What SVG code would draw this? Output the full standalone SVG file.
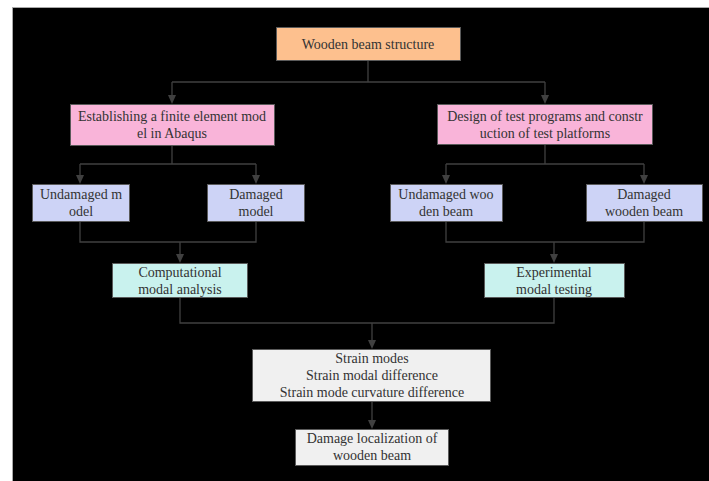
<svg xmlns="http://www.w3.org/2000/svg" width="709" height="481" viewBox="0 0 709 481">
<style>
.box{stroke:#5a5a5a;stroke-width:1}
.t{font-family:"Liberation Serif","Times New Roman",serif;font-size:14px;fill:#333;text-anchor:middle}
.c{fill:none;stroke:#404040;stroke-width:1.3}
.orange{fill:#fdc08e}
.pink{fill:#f9b4d9}
.lav{fill:#cdd3f6}
.cyan{fill:#c9f2ee}
.gray{fill:#f0f0f0}
.ah{fill:#404040}
</style>
<rect x="0" y="0" width="709" height="481" fill="#ffffff"/>
<rect x="12" y="7" width="697" height="474" fill="#000000"/>
<line x1="12" y1="7.5" x2="709" y2="7.5" stroke="#a8a8a8" stroke-width="1"/>
<line x1="12.5" y1="7" x2="12.5" y2="481" stroke="#a8a8a8" stroke-width="1"/>

<g id="connectors">
<path class="c" d="M368,60 V82 M172,82 H545"/>
<path class="c" d="M172,145 V164 M80,164 H256 M545,144 V164 M446,164 H644"/>
<path class="c" d="M80,221 V242 H256 V221 M446,221 V242 H644 V221"/>
<path class="c" d="M180,297 V323 H554 V297"/>
<path class="c" d="M172,82 V96 M545,82 V96 M80,164 V176 M256,164 V176 M446,164 V176 M644,164 V176 M180,242 V255 M554,242 V255 M372,323 V341 M372,401 V421"/>
<polygon class="ah" points="168,95 176,95 172,104"/>
<polygon class="ah" points="541,95 549,95 545,104"/>
<polygon class="ah" points="76,175 84,175 80,184"/>
<polygon class="ah" points="252,175 260,175 256,184"/>
<polygon class="ah" points="442,175 450,175 446,184"/>
<polygon class="ah" points="640,175 648,175 644,184"/>
<polygon class="ah" points="176,254 184,254 180,263"/>
<polygon class="ah" points="550,254 558,254 554,263"/>
<polygon class="ah" points="368,340 376,340 372,349"/>
<polygon class="ah" points="368,420 376,420 372,429"/>
</g>

<g id="n-top">
<rect class="box orange" x="276.5" y="27.5" width="184" height="33"/>
<text class="t" x="368" y="49">Wooden beam structure</text>
</g>
<g id="n-fem">
<rect class="box pink" x="70.5" y="104.5" width="204" height="41"/>
<text class="t" x="172" y="121">Establishing a finite element mod</text>
<text class="t" x="172" y="138">el in Abaqus</text>
</g>
<g id="n-test">
<rect class="box pink" x="437.5" y="104.5" width="215" height="40"/>
<text class="t" x="545" y="121">Design of test programs and constr</text>
<text class="t" x="545" y="138">uction of test platforms</text>
</g>
<g id="n-undam-model">
<rect class="box lav" x="32.5" y="184.5" width="97" height="37"/>
<text class="t" x="81" y="199">Undamaged m</text>
<text class="t" x="81" y="216">odel</text>
</g>
<g id="n-dam-model">
<rect class="box lav" x="207.5" y="184.5" width="97" height="37"/>
<text class="t" x="256" y="199">Damaged</text>
<text class="t" x="256" y="216">model</text>
</g>
<g id="n-undam-beam">
<rect class="box lav" x="390.5" y="184.5" width="112" height="37"/>
<text class="t" x="446" y="199">Undamaged woo</text>
<text class="t" x="446" y="216">den beam</text>
</g>
<g id="n-dam-beam">
<rect class="box lav" x="586.5" y="184.5" width="116" height="37"/>
<text class="t" x="644" y="199">Damaged</text>
<text class="t" x="644" y="216">wooden beam</text>
</g>
<g id="n-comp">
<rect class="box cyan" x="112.5" y="263.5" width="135" height="34"/>
<text class="t" x="180" y="277">Computational</text>
<text class="t" x="180" y="294">modal analysis</text>
</g>
<g id="n-exp">
<rect class="box cyan" x="484.5" y="263.5" width="140" height="34"/>
<text class="t" x="554" y="277">Experimental</text>
<text class="t" x="554" y="294">modal testing</text>
</g>
<g id="n-strain">
<rect class="box gray" x="252.5" y="349.5" width="238" height="52"/>
<text class="t" x="372" y="363">Strain modes</text>
<text class="t" x="372" y="380">Strain modal difference</text>
<text class="t" x="372" y="397">Strain mode curvature difference</text>
</g>
<g id="n-damage">
<rect class="box gray" x="295.5" y="429.5" width="153" height="36"/>
<text class="t" x="372" y="443">Damage localization of</text>
<text class="t" x="372" y="460">wooden beam</text>
</g>
</svg>
